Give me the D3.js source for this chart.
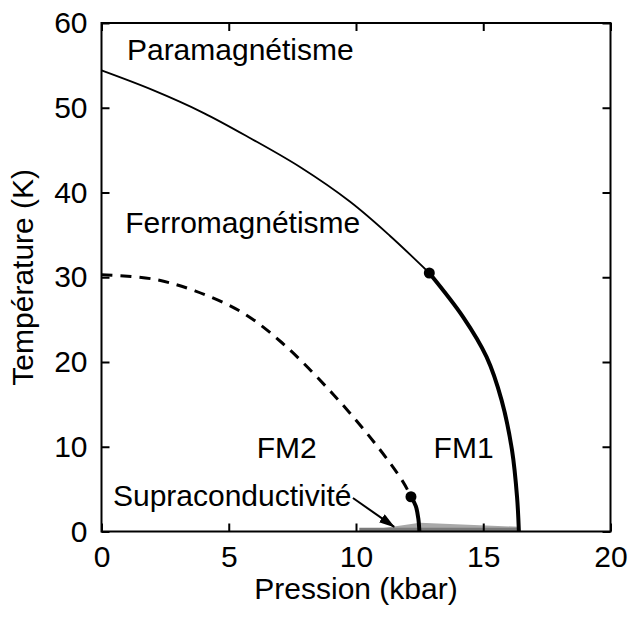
<!DOCTYPE html>
<html><head><meta charset="utf-8">
<script src="https://cdn.jsdelivr.net/npm/d3@7"></script>
<style>body{margin:0;background:#fff}svg{display:block}text{font-family:"Liberation Sans",Arial,sans-serif;fill:#000}</style>
</head><body>
<script>
// Data (pressure in kbar, temperature in K)
const xTicks = [0, 5, 10, 15, 20];
const yTicks = [0, 10, 20, 30, 40, 50, 60];
const paraThinP = [0, 2, 4, 5.85, 7.8, 9.77, 11.33, 12.88];
const paraThinT = [54.4, 52.1, 49.4, 46.4, 43.0, 38.9, 34.9, 30.5];
const fm1P = [12.88, 14.21, 15.13, 15.72, 16.13, 16.33, 16.4];
const fm1T = [30.5, 25.3, 20.6, 15.5, 9.6, 4.0, 0];
const fm2DashP = [0, 2, 3.67, 5.5, 7.08, 9.1, 10.8, 11.86, 12.16];
const fm2DashT = [30.3, 29.8, 28.4, 25.9, 22.3, 16.2, 10.2, 5.8, 4.1];
const fm2SolidP = [12.16, 12.35, 12.45, 12.49];
const fm2SolidT = [4.1, 3.0, 1.5, 0];
const dotsP = [12.88, 12.16];
const dotsT = [30.5, 4.1];
const scLightP = [10.13, 12.51, 16.44, 16.44];
const scLightT = [0, 1.04, 0.55, 0];
const scDarkP = [10.13, 10.13, 16.44, 16.44];
const scDarkT = [0, 0.45, 0.45, 0];
const arrowP = [9.88, 11.5];
const arrowT = [3.95, 0.55];
const labels = ["Paramagnétisme", "Ferromagnétisme", "FM2", "FM1", "Supraconductivité"];
const labelP = [1.0, 0.93, 6.1, 13.05, 0.45];
const labelT = [55.6, 35.2, 8.65, 8.65, 2.95];

const W = 629, H = 620;
const L = 101.5, R = 610.5, T = 23, B = 531.5;
const x = d3.scaleLinear().domain([0, 20]).range([L, R]);
const y = d3.scaleLinear().domain([0, 60]).range([B, T]);

const svg = d3.select("body").append("svg").attr("width", W).attr("height", H);
const zip = (a, b) => a.map((v, i) => [v, b[i]]);
const line = d3.line().x(d => x(d[0])).y(d => y(d[1])).curve(d3.curveCatmullRom.alpha(0.5));
const poly = d3.line().x(d => x(d[0])).y(d => y(d[1]));

svg.append("defs").append("marker").attr("id", "ah")
  .attr("viewBox", "0 0 16 10").attr("refX", 15).attr("refY", 5)
  .attr("markerWidth", 16).attr("markerHeight", 10).attr("markerUnits", "userSpaceOnUse")
  .attr("orient", "auto")
  .append("path").attr("d", "M0,0L16,5L0,10Z").attr("fill", "#000");

// superconductivity region
svg.append("path").attr("d", poly(zip(scLightP, scLightT)) + "Z").attr("fill", "#a9a9a9");
svg.append("path").attr("d", poly(zip(scDarkP, scDarkT)) + "Z").attr("fill", "#7a7a7a");

// axes (ticks inward, on all sides)
const fs = 30;
const gx = svg.append("g").attr("transform", `translate(0,${B})`)
  .call(d3.axisBottom(x).tickValues(xTicks).tickSize(-8).tickPadding(14).tickFormat(d3.format("d")));
const gxt = svg.append("g").attr("transform", `translate(0,${T})`)
  .call(d3.axisTop(x).tickValues(xTicks).tickSize(-8).tickFormat(""));
const gy = svg.append("g").attr("transform", `translate(${L},0)`)
  .call(d3.axisLeft(y).tickValues(yTicks).tickSize(-8).tickPadding(14).tickFormat(d3.format("d")));
const gyr = svg.append("g").attr("transform", `translate(${R},0)`)
  .call(d3.axisRight(y).tickValues(yTicks).tickSize(-8).tickFormat(""));
[gx, gxt, gy, gyr].forEach(g => {
  g.select(".domain").remove();
  g.selectAll(".tick line").attr("stroke", "#000").attr("stroke-width", 2);
  g.selectAll("text").attr("font-size", fs).attr("font-family", "Liberation Sans, Arial, sans-serif").attr("fill", "#000");
});
svg.append("rect").attr("x", L).attr("y", T).attr("width", R - L).attr("height", B - T)
  .attr("fill", "none").attr("stroke", "#000").attr("stroke-width", 2);

// curves
svg.append("path").attr("d", line(zip(paraThinP, paraThinT))).attr("fill", "none").attr("stroke", "#000").attr("stroke-width", 1.8);
svg.append("path").attr("d", line(zip(fm1P, fm1T))).attr("fill", "none").attr("stroke", "#000").attr("stroke-width", 4);
svg.append("path").attr("d", line(zip(fm2DashP, fm2DashT))).attr("fill", "none").attr("stroke", "#000").attr("stroke-width", 3).attr("stroke-dasharray", "11,8");
svg.append("path").attr("d", line(zip(fm2SolidP, fm2SolidT))).attr("fill", "none").attr("stroke", "#000").attr("stroke-width", 4);
svg.selectAll("circle.dot").data(zip(dotsP, dotsT)).enter().append("circle")
  .attr("cx", d => x(d[0])).attr("cy", d => y(d[1])).attr("r", 5.5).attr("fill", "#000");

// arrow
svg.append("path").attr("d", poly(zip(arrowP, arrowT))).attr("stroke", "#000").attr("stroke-width", 2)
  .attr("fill", "none").attr("marker-end", "url(#ah)");

// labels
svg.selectAll("text.lab").data(labels).enter().append("text").attr("class", "lab")
  .attr("x", (d, i) => x(labelP[i])).attr("y", (d, i) => y(labelT[i]))
  .attr("font-size", fs).text(d => d);

// axis titles
svg.append("text").attr("x", (L + R) / 2).attr("y", 599).attr("text-anchor", "middle").attr("font-size", fs).text("Pression (kbar)");
svg.append("text").attr("transform", `translate(33,${(T + B) / 2}) rotate(-90)`).attr("text-anchor", "middle").attr("font-size", fs).text("Température (K)");
</script>
</body></html>
